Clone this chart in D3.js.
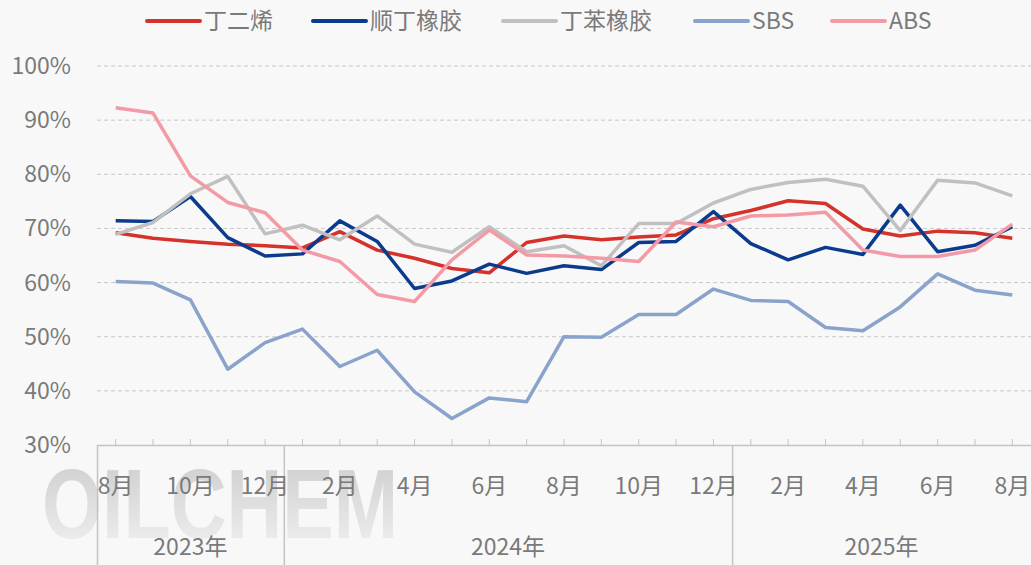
<!DOCTYPE html>
<html>
<head>
<meta charset="utf-8">
<script src="https://cdn.jsdelivr.net/npm/d3@7"></script>
<style>
  html, body { margin: 0; padding: 0; background: #f8f8f8; }
  svg { display: block; font-family: "Noto Sans CJK SC", "Noto Sans", sans-serif; }
</style>
</head>
<body>
<svg width="1031" height="565"></svg>
<script>
// months 2023-08 .. 2025-08
const months = ["2023-08","2023-09","2023-10","2023-11","2023-12",
  "2024-01","2024-02","2024-03","2024-04","2024-05","2024-06","2024-07","2024-08","2024-09","2024-10","2024-11","2024-12",
  "2025-01","2025-02","2025-03","2025-04","2025-05","2025-06","2025-07","2025-08"]

const butadiene = [69.2, 68.2, 67.6, 67.1, 66.8, 66.4, 69.4, 66.0, 64.5, 62.6, 61.8, 67.4, 68.6, 67.9, 68.4, 68.8, 71.8, 73.3, 75.1, 74.6, 69.9, 68.6, 69.5, 69.2, 68.2]
const brRubber  = [71.4, 71.3, 75.9, 68.3, 64.9, 65.3, 71.4, 67.6, 58.9, 60.3, 63.4, 61.7, 63.1, 62.4, 67.4, 67.6, 73.1, 67.2, 64.2, 66.5, 65.2, 74.3, 65.7, 66.9, 70.3]
const sbrRubber = [68.9, 71.1, 76.4, 79.6, 69.0, 70.6, 67.9, 72.3, 67.1, 65.6, 70.3, 65.7, 66.8, 63.1, 70.9, 70.9, 74.7, 77.2, 78.5, 79.1, 77.8, 69.6, 78.9, 78.4, 76.0]
const sbs       = [60.2, 59.9, 56.8, 44.0, 48.9, 51.4, 44.5, 47.5, 39.8, 34.9, 38.7, 38.0, 50.0, 49.9, 54.1, 54.1, 58.8, 56.7, 56.5, 51.7, 51.1, 55.5, 61.6, 58.6, 57.7]
const abs       = [92.3, 91.3, 79.7, 74.8, 72.9, 66.0, 63.9, 57.8, 56.5, 64.2, 69.7, 65.1, 64.9, 64.5, 63.9, 71.2, 70.3, 72.3, 72.5, 73.0, 66.0, 64.8, 64.8, 66.0, 70.8]

const seriesNames = ["丁二烯", "顺丁橡胶", "丁苯橡胶", "SBS", "ABS"]
const seriesColors = ["#d5322a", "#0b3b8c", "#c0c0c0", "#8aa3cb", "#f39aa6"]
const seriesData = [butadiene, brRubber, sbrRubber, sbs, abs]
const yTicks = [30, 40, 50, 60, 70, 80, 90, 100]
const years = ["2023年", "2024年", "2025年"]

const svg = d3.select("svg")
const textColor = "#7a7a7a"
const fontSize = "23px"

const x = d3.scaleBand().domain(months).range([97, 1031])
const cx = d => x(d) + x.bandwidth() / 2
const y = d3.scaleLinear().domain([30, 100]).range([445, 66])

// watermark
const defs = svg.append("defs")
const grad = defs.append("linearGradient").attr("id", "wm").attr("x1", 0).attr("y1", 0).attr("x2", 0).attr("y2", 1)
grad.append("stop").attr("offset", "0%").attr("stop-color", "#cbcbcb")
grad.append("stop").attr("offset", "100%").attr("stop-color", "#f2f2f2")
svg.append("text")
    .attr("x", 42).attr("y", 538)
    .attr("textLength", 356).attr("lengthAdjust", "spacingAndGlyphs")
    .style("font-family", "'Liberation Sans', Arial, sans-serif")
    .style("font-weight", "bold").style("font-size", "98px")
    .attr("fill", "url(#wm)")
    .text("OILCHEM")

// grid
const gridGroup = svg.append("g")
gridGroup.selectAll("line")
    .data(yTicks.filter(t => t > 30))
    .enter()
    .append("line")
    .attr("x1", 97).attr("x2", 1031)
    .attr("y1", d => y(d)).attr("y2", d => y(d))
    .attr("stroke", "#c8c8c8").attr("stroke-width", 1)
    .attr("stroke-dasharray", "4,3")

// y labels
svg.append("g").selectAll("text")
    .data(yTicks)
    .enter()
    .append("text")
    .attr("x", 71).attr("y", d => y(d))
    .attr("dy", "0.35em")
    .attr("text-anchor", "end")
    .attr("fill", textColor)
    .style("font-size", fontSize)
    .text(d => d + "%")

// x axis line + ticks
const axisGroup = svg.append("g")
axisGroup.append("line")
    .attr("x1", 97).attr("x2", 1031).attr("y1", 445.5).attr("y2", 445.5)
    .attr("stroke", "#c4c4c4").attr("stroke-width", 1.5)
axisGroup.selectAll("line.tick")
    .data(months)
    .enter()
    .append("line")
    .attr("class", "tick")
    .attr("x1", d => cx(d)).attr("x2", d => cx(d))
    .attr("y1", 439).attr("y2", 445)
    .attr("stroke", "#c4c4c4").attr("stroke-width", 1)

// year separators
const yearBounds = years.map(yr => {
    const ms = months.filter(m => m.startsWith(yr.slice(0, 4)))
    return { label: yr, x0: x(ms[0]), x1: x(ms[ms.length - 1]) + x.bandwidth() }
})
axisGroup.selectAll("line.sep")
    .data(yearBounds)
    .enter()
    .append("line")
    .attr("class", "sep")
    .attr("x1", d => d.x0 + 0.5).attr("x2", d => d.x0 + 0.5)
    .attr("y1", 445).attr("y2", 565)
    .attr("stroke", "#c4c4c4").attr("stroke-width", 1.5)

// month labels
axisGroup.selectAll("text.month")
    .data(months.filter((m, i) => i % 2 === 0))
    .enter()
    .append("text")
    .attr("class", "month")
    .attr("x", d => cx(d)).attr("y", 494)
    .attr("text-anchor", "middle")
    .attr("fill", textColor)
    .style("font-size", fontSize)
    .text(d => (+d.slice(5)) + "月")

axisGroup.selectAll("text.year")
    .data(yearBounds)
    .enter()
    .append("text")
    .attr("class", "year")
    .attr("x", d => (d.x0 + d.x1) / 2).attr("y", 555)
    .attr("text-anchor", "middle")
    .attr("fill", textColor)
    .style("font-size", fontSize)
    .text(d => d.label)

// lines
const lineGen = d3.line()
    .x((d, i) => cx(months[i]))
    .y(d => y(d))

svg.append("g").selectAll("path")
    .data(seriesData)
    .enter()
    .append("path")
    .attr("d", lineGen)
    .attr("fill", "none")
    .attr("stroke", (d, i) => seriesColors[i])
    .attr("stroke-width", 3.5)
    .attr("stroke-linejoin", "round")

// legend
const legendX = [147, 313, 503, 695, 832]
const legend = svg.append("g").selectAll("g")
    .data(seriesNames)
    .enter()
    .append("g")
    .attr("transform", (d, i) => `translate(${legendX[i]},21)`)
legend.append("line")
    .attr("x1", 0).attr("x2", 53)
    .attr("stroke", (d, i) => seriesColors[i])
    .attr("stroke-width", 4)
    .attr("stroke-linecap", "round")
legend.append("text")
    .attr("x", 57).attr("dy", "0.35em")
    .attr("fill", textColor)
    .style("font-size", fontSize)
    .text(d => d)
</script>
</body>
</html>
